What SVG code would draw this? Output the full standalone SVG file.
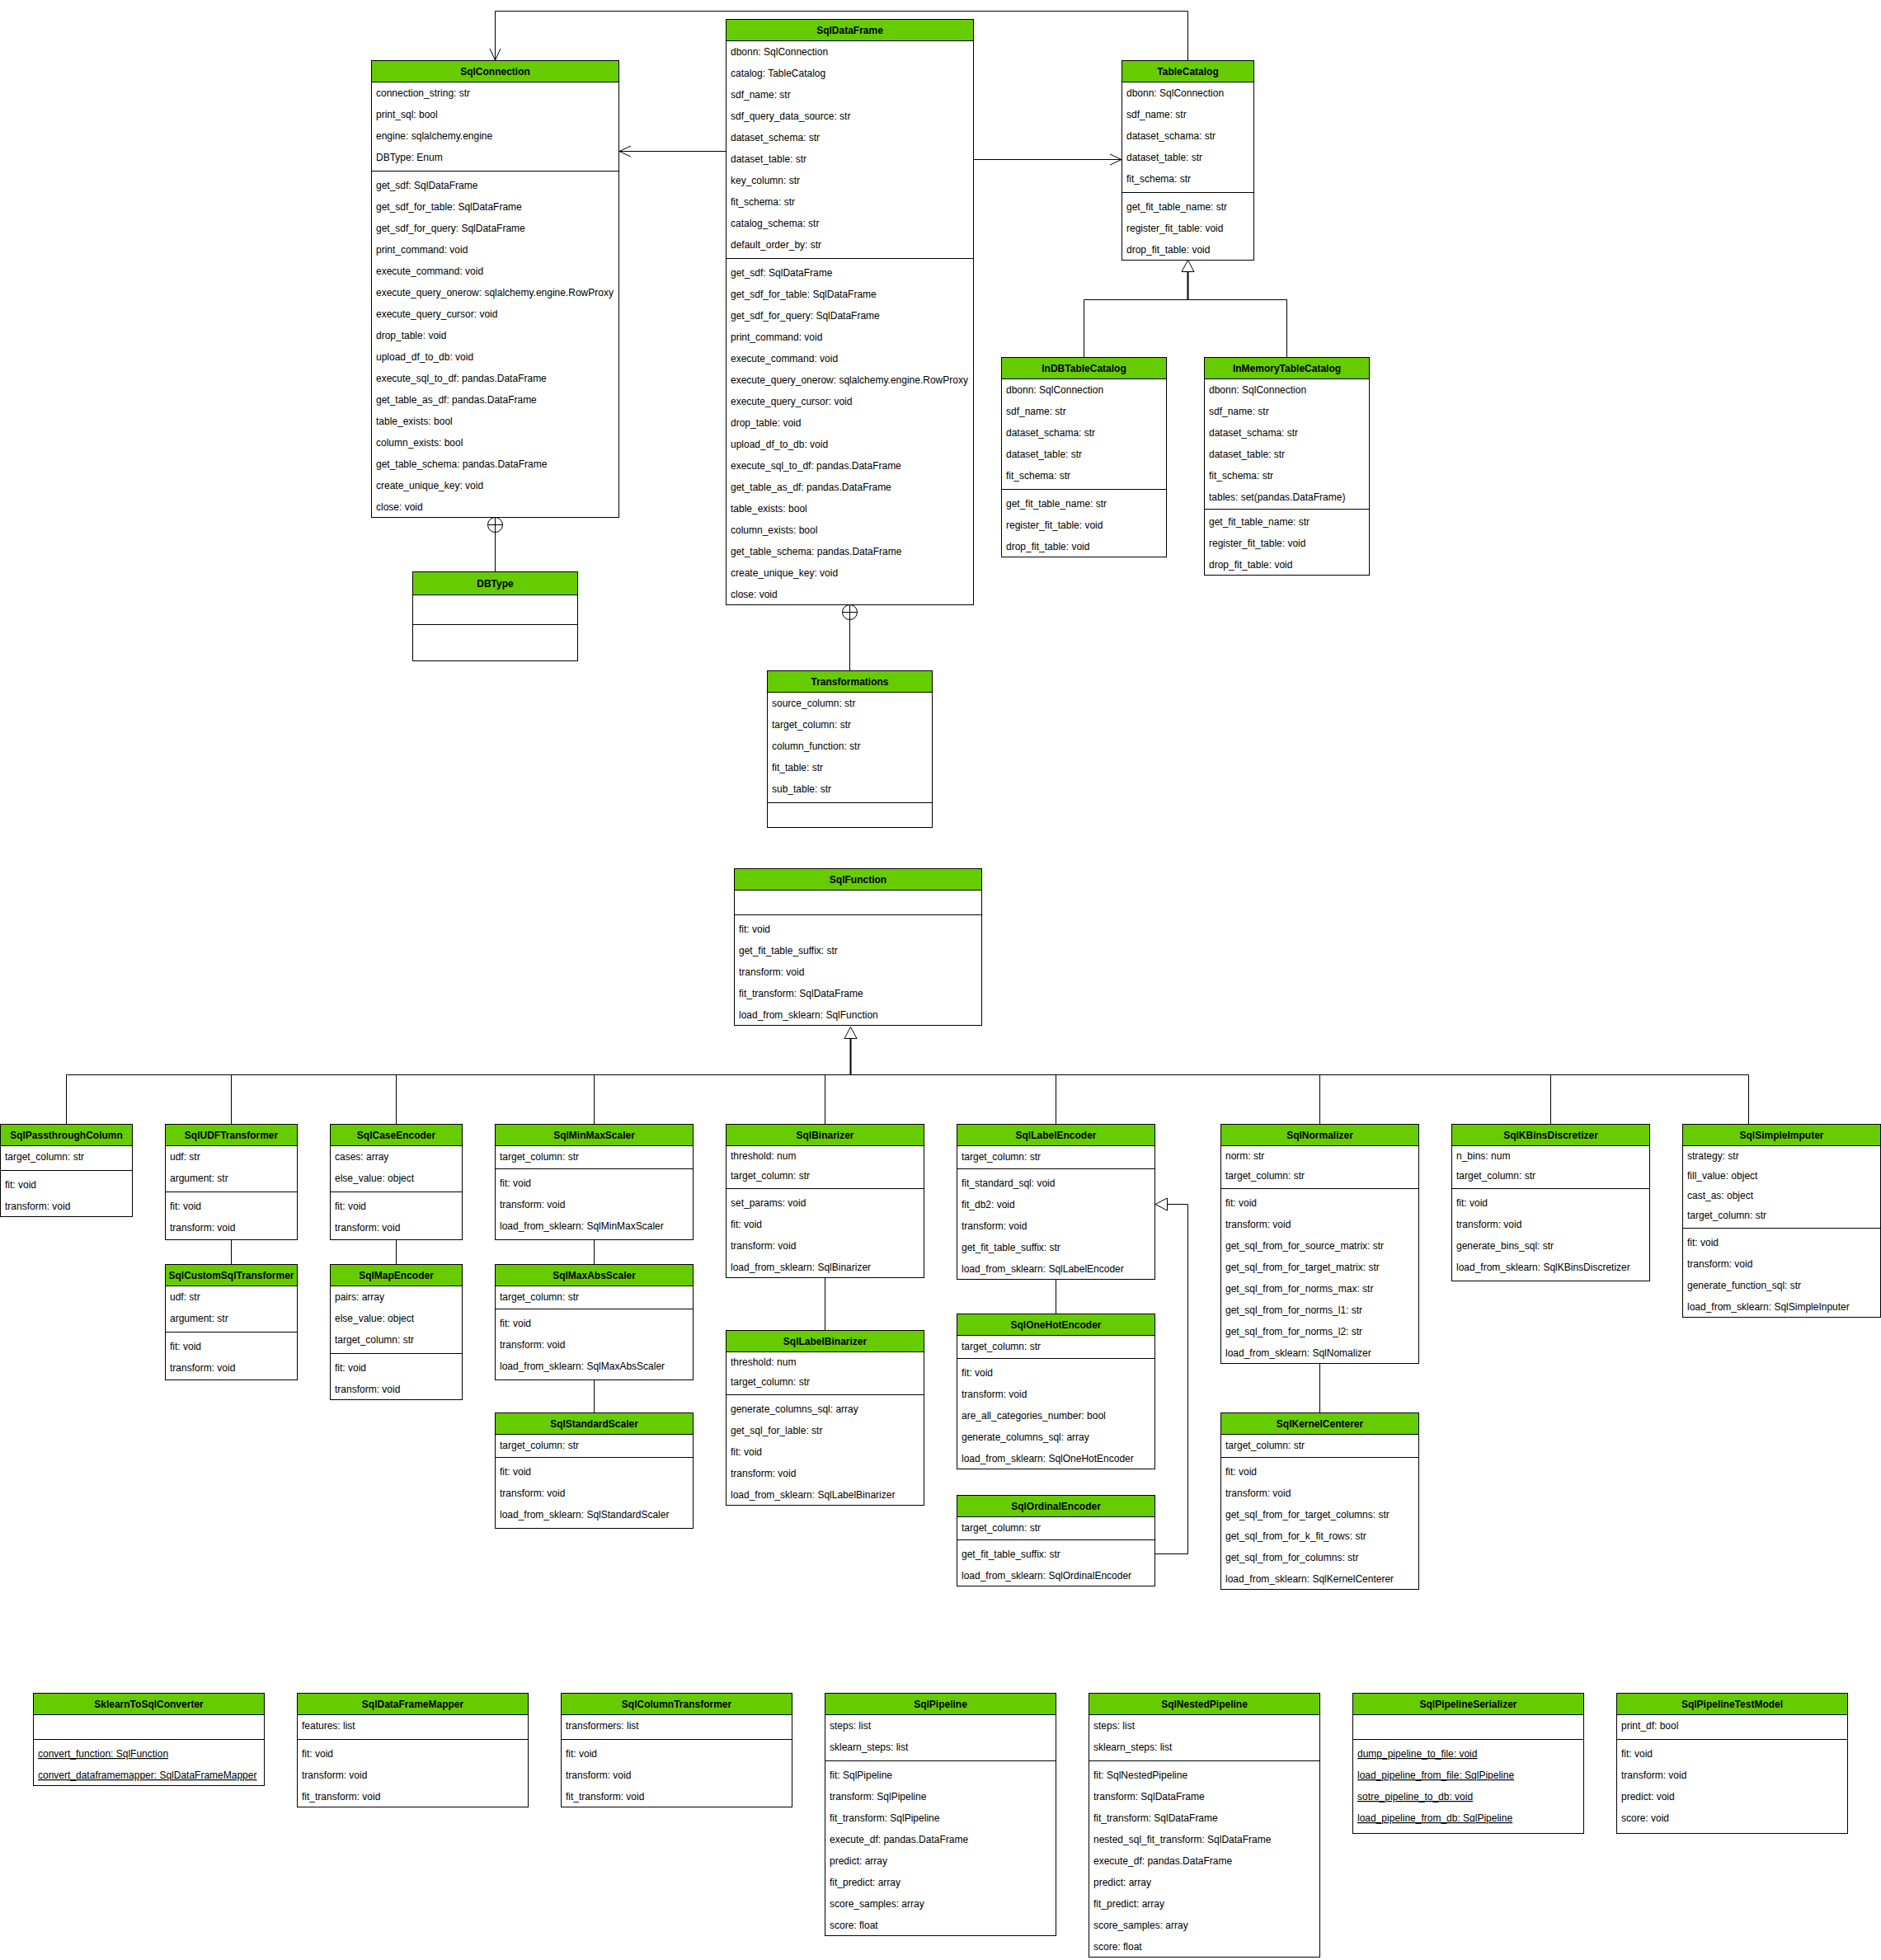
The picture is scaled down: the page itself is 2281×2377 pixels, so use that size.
<svg xmlns="http://www.w3.org/2000/svg" width="2281" height="2377" viewBox="0 0 2281 2377">
<style>
.bx{fill:#fff;stroke:#000;stroke-width:1}
.hd{fill:#66CC00;stroke:#000;stroke-width:1}
.sp{stroke:#000;stroke-width:1}
text{font-family:"Liberation Sans",Arial,Helvetica,sans-serif;font-size:12px;fill:#000}
.ti{font-weight:bold;text-anchor:middle}
.u{text-decoration:underline}
.e{fill:none;stroke:#000;stroke-width:1}
.e2{fill:none;stroke:#000;stroke-width:2}
.tri{fill:#fff;stroke:#000;stroke-width:1}
</style>
<defs>
<marker id="open" markerUnits="userSpaceOnUse" viewBox="-16 -10 20 20" refX="0" refY="0" markerWidth="20" markerHeight="20" orient="auto">
<path d="M-14,-6.5 L0,0 L-14,6.5" fill="none" stroke="#000" stroke-width="1"/>
</marker>
</defs>
<rect x="0" y="0" width="2281" height="2377" fill="#fff"/>

<!-- connectors -->
<g id="connectors">
<path class="e" d="M880.5,183.5 H751" marker-end="url(#open)"/>
<path class="e" d="M1180.5,193.5 H1360" marker-end="url(#open)"/>
<path class="e" d="M1440.5,73.5 V13.5 H600.5 V73" marker-end="url(#open)"/>
<!-- nested: SqlConnection / DBType -->
<circle class="tri" cx="600.5" cy="636.5" r="9"/>
<path class="e" d="M591.5,636.5 H609.5 M600.5,627.5 V693.5"/>
<!-- nested: SqlDataFrame / Transformations -->
<circle class="tri" cx="1030.5" cy="742.5" r="9"/>
<path class="e" d="M1021.5,742.5 H1039.5 M1030.5,733.5 V813.5"/>
<!-- TableCatalog generalization -->
<path class="e" d="M1314.5,433.5 V363.5 H1560.5 V433.5"/>
<path class="e2" d="M1440.5,329.5 V363.5"/>
<polygon class="tri" points="1440.5,315.5 1448,329.5 1433,329.5"/>
<!-- SqlFunction generalization -->
<path class="e" d="M80.5,1363.5 V1303.5 H2120.5 V1363.5"/>
<path class="e" d="M280.5,1303.5 V1363.5 M480.5,1303.5 V1363.5 M720.5,1303.5 V1363.5 M1000.5,1303.5 V1363.5 M1280.5,1303.5 V1363.5 M1600.5,1303.5 V1363.5 M1880.5,1303.5 V1363.5"/>
<path class="e2" d="M1031.5,1259.5 V1303.5"/>
<polygon class="tri" points="1031.5,1245.5 1039,1259.5 1024,1259.5"/>
<!-- chained subclasses -->
<path class="e" d="M280.5,1503.5 V1533.5 M480.5,1503.5 V1533.5 M720.5,1503.5 V1533.5 M720.5,1673.5 V1713.5 M1000.5,1549.5 V1613.5 M1280.5,1551.5 V1593.5 M1600.5,1653.5 V1713.5"/>
<!-- SqlOrdinalEncoder to SqlLabelEncoder -->
<path class="e" d="M1400.5,1884.5 H1440.5 V1460.5 H1415.5"/>
<polygon class="tri" points="1401,1460.5 1415.5,1453 1415.5,1468"/>
</g>

<g id="SqlConnection" transform="translate(450.5,73.5)">
<rect class="bx" width="300" height="554"/><rect class="hd" width="300" height="26"/>
<line class="sp" x1="0" y1="134" x2="300" y2="134"/>
<text class="ti" x="150" y="17.5">SqlConnection</text>
<text x="5.5" y="43.5">connection_string: str</text>
<text x="5.5" y="69.5">print_sql: bool</text>
<text x="5.5" y="95.5">engine: sqlalchemy.engine</text>
<text x="5.5" y="121.5">DBType: Enum</text>
<text x="5.5" y="155.5">get_sdf: SqlDataFrame</text>
<text x="5.5" y="181.5">get_sdf_for_table: SqlDataFrame</text>
<text x="5.5" y="207.5">get_sdf_for_query: SqlDataFrame</text>
<text x="5.5" y="233.5">print_command: void</text>
<text x="5.5" y="259.5">execute_command: void</text>
<text x="5.5" y="285.5">execute_query_onerow: sqlalchemy.engine.RowProxy</text>
<text x="5.5" y="311.5">execute_query_cursor: void</text>
<text x="5.5" y="337.5">drop_table: void</text>
<text x="5.5" y="363.5">upload_df_to_db: void</text>
<text x="5.5" y="389.5">execute_sql_to_df: pandas.DataFrame</text>
<text x="5.5" y="415.5">get_table_as_df: pandas.DataFrame</text>
<text x="5.5" y="441.5">table_exists: bool</text>
<text x="5.5" y="467.5">column_exists: bool</text>
<text x="5.5" y="493.5">get_table_schema: pandas.DataFrame</text>
<text x="5.5" y="519.5">create_unique_key: void</text>
<text x="5.5" y="545.5">close: void</text>
</g>

<g id="SqlDataFrame" transform="translate(880.5,23.5)">
<rect class="bx" width="300" height="710"/><rect class="hd" width="300" height="26"/>
<line class="sp" x1="0" y1="290" x2="300" y2="290"/>
<text class="ti" x="150" y="17.5">SqlDataFrame</text>
<text x="5.5" y="43.5">dbonn: SqlConnection</text>
<text x="5.5" y="69.5">catalog: TableCatalog</text>
<text x="5.5" y="95.5">sdf_name: str</text>
<text x="5.5" y="121.5">sdf_query_data_source: str</text>
<text x="5.5" y="147.5">dataset_schema: str</text>
<text x="5.5" y="173.5">dataset_table: str</text>
<text x="5.5" y="199.5">key_column: str</text>
<text x="5.5" y="225.5">fit_schema: str</text>
<text x="5.5" y="251.5">catalog_schema: str</text>
<text x="5.5" y="277.5">default_order_by: str</text>
<text x="5.5" y="311.5">get_sdf: SqlDataFrame</text>
<text x="5.5" y="337.5">get_sdf_for_table: SqlDataFrame</text>
<text x="5.5" y="363.5">get_sdf_for_query: SqlDataFrame</text>
<text x="5.5" y="389.5">print_command: void</text>
<text x="5.5" y="415.5">execute_command: void</text>
<text x="5.5" y="441.5">execute_query_onerow: sqlalchemy.engine.RowProxy</text>
<text x="5.5" y="467.5">execute_query_cursor: void</text>
<text x="5.5" y="493.5">drop_table: void</text>
<text x="5.5" y="519.5">upload_df_to_db: void</text>
<text x="5.5" y="545.5">execute_sql_to_df: pandas.DataFrame</text>
<text x="5.5" y="571.5">get_table_as_df: pandas.DataFrame</text>
<text x="5.5" y="597.5">table_exists: bool</text>
<text x="5.5" y="623.5">column_exists: bool</text>
<text x="5.5" y="649.5">get_table_schema: pandas.DataFrame</text>
<text x="5.5" y="675.5">create_unique_key: void</text>
<text x="5.5" y="701.5">close: void</text>
</g>

<g id="TableCatalog" transform="translate(1360.5,73.5)">
<rect class="bx" width="160" height="242"/><rect class="hd" width="160" height="26"/>
<line class="sp" x1="0" y1="160" x2="160" y2="160"/>
<text class="ti" x="80" y="17.5">TableCatalog</text>
<text x="5.5" y="43.5">dbonn: SqlConnection</text>
<text x="5.5" y="69.5">sdf_name: str</text>
<text x="5.5" y="95.5">dataset_schama: str</text>
<text x="5.5" y="121.5">dataset_table: str</text>
<text x="5.5" y="147.5">fit_schema: str</text>
<text x="5.5" y="181.5">get_fit_table_name: str</text>
<text x="5.5" y="207.5">register_fit_table: void</text>
<text x="5.5" y="233.5">drop_fit_table: void</text>
</g>

<g id="InDBTableCatalog" transform="translate(1214.5,433.5)">
<rect class="bx" width="200" height="242"/><rect class="hd" width="200" height="26"/>
<line class="sp" x1="0" y1="160" x2="200" y2="160"/>
<text class="ti" x="100" y="17.5">InDBTableCatalog</text>
<text x="5.5" y="43.5">dbonn: SqlConnection</text>
<text x="5.5" y="69.5">sdf_name: str</text>
<text x="5.5" y="95.5">dataset_schama: str</text>
<text x="5.5" y="121.5">dataset_table: str</text>
<text x="5.5" y="147.5">fit_schema: str</text>
<text x="5.5" y="181.5">get_fit_table_name: str</text>
<text x="5.5" y="207.5">register_fit_table: void</text>
<text x="5.5" y="233.5">drop_fit_table: void</text>
</g>

<g id="InMemoryTableCatalog" transform="translate(1460.5,433.5)">
<rect class="bx" width="200" height="264"/><rect class="hd" width="200" height="26"/>
<line class="sp" x1="0" y1="184" x2="200" y2="184"/>
<text class="ti" x="100" y="17.5">InMemoryTableCatalog</text>
<text x="5.5" y="43.5">dbonn: SqlConnection</text>
<text x="5.5" y="69.5">sdf_name: str</text>
<text x="5.5" y="95.5">dataset_schama: str</text>
<text x="5.5" y="121.5">dataset_table: str</text>
<text x="5.5" y="147.5">fit_schema: str</text>
<text x="5.5" y="173.5">tables: set(pandas.DataFrame)</text>
<text x="5.5" y="203.5">get_fit_table_name: str</text>
<text x="5.5" y="229.5">register_fit_table: void</text>
<text x="5.5" y="255.5">drop_fit_table: void</text>
</g>

<g id="DBType" transform="translate(500.5,693.5)">
<rect class="bx" width="200" height="108"/><rect class="hd" width="200" height="28"/>
<line class="sp" x1="0" y1="64" x2="200" y2="64"/>
<text class="ti" x="100" y="18.5">DBType</text>
</g>

<g id="Transformations" transform="translate(930.5,813.5)">
<rect class="bx" width="200" height="190"/><rect class="hd" width="200" height="26"/>
<line class="sp" x1="0" y1="160" x2="200" y2="160"/>
<text class="ti" x="100" y="17.5">Transformations</text>
<text x="5.5" y="43.5">source_column: str</text>
<text x="5.5" y="69.5">target_column: str</text>
<text x="5.5" y="95.5">column_function: str</text>
<text x="5.5" y="121.5">fit_table: str</text>
<text x="5.5" y="147.5">sub_table: str</text>
</g>

<g id="SqlFunction" transform="translate(890.5,1053.5)">
<rect class="bx" width="300" height="190"/><rect class="hd" width="300" height="26"/>
<line class="sp" x1="0" y1="56" x2="300" y2="56"/>
<text class="ti" x="150" y="17.5">SqlFunction</text>
<text x="5.5" y="77.5">fit: void</text>
<text x="5.5" y="103.5">get_fit_table_suffix: str</text>
<text x="5.5" y="129.5">transform: void</text>
<text x="5.5" y="155.5">fit_transform: SqlDataFrame</text>
<text x="5.5" y="181.5">load_from_sklearn: SqlFunction</text>
</g>

<g id="SqlPassthroughColumn" transform="translate(0.5,1363.5)">
<rect class="bx" width="160" height="112"/><rect class="hd" width="160" height="26"/>
<line class="sp" x1="0" y1="56" x2="160" y2="56"/>
<text class="ti" x="80" y="17.5">SqlPassthroughColumn</text>
<text x="5.5" y="43.5">target_column: str</text>
<text x="5.5" y="77.5">fit: void</text>
<text x="5.5" y="103.5">transform: void</text>
</g>

<g id="SqlUDFTransformer" transform="translate(200.5,1363.5)">
<rect class="bx" width="160" height="140"/><rect class="hd" width="160" height="26"/>
<line class="sp" x1="0" y1="82" x2="160" y2="82"/>
<text class="ti" x="80" y="17.5">SqlUDFTransformer</text>
<text x="5.5" y="43.5">udf: str</text>
<text x="5.5" y="69.5">argument: str</text>
<text x="5.5" y="103.5">fit: void</text>
<text x="5.5" y="129.5">transform: void</text>
</g>

<g id="SqlCustomSqlTransformer" transform="translate(200.5,1533.5)">
<rect class="bx" width="160" height="140"/><rect class="hd" width="160" height="26"/>
<line class="sp" x1="0" y1="82" x2="160" y2="82"/>
<text class="ti" x="80" y="17.5">SqlCustomSqlTransformer</text>
<text x="5.5" y="43.5">udf: str</text>
<text x="5.5" y="69.5">argument: str</text>
<text x="5.5" y="103.5">fit: void</text>
<text x="5.5" y="129.5">transform: void</text>
</g>

<g id="SqlCaseEncoder" transform="translate(400.5,1363.5)">
<rect class="bx" width="160" height="140"/><rect class="hd" width="160" height="26"/>
<line class="sp" x1="0" y1="82" x2="160" y2="82"/>
<text class="ti" x="80" y="17.5">SqlCaseEncoder</text>
<text x="5.5" y="43.5">cases: array</text>
<text x="5.5" y="69.5">else_value: object</text>
<text x="5.5" y="103.5">fit: void</text>
<text x="5.5" y="129.5">transform: void</text>
</g>

<g id="SqlMapEncoder" transform="translate(400.5,1533.5)">
<rect class="bx" width="160" height="164"/><rect class="hd" width="160" height="26"/>
<line class="sp" x1="0" y1="108" x2="160" y2="108"/>
<text class="ti" x="80" y="17.5">SqlMapEncoder</text>
<text x="5.5" y="43.5">pairs: array</text>
<text x="5.5" y="69.5">else_value: object</text>
<text x="5.5" y="95.5">target_column: str</text>
<text x="5.5" y="129.5">fit: void</text>
<text x="5.5" y="155.5">transform: void</text>
</g>

<g id="SqlMinMaxScaler" transform="translate(600.5,1363.5)">
<rect class="bx" width="240" height="140"/><rect class="hd" width="240" height="26"/>
<line class="sp" x1="0" y1="54" x2="240" y2="54"/>
<text class="ti" x="120" y="17.5">SqlMinMaxScaler</text>
<text x="5.5" y="43.5">target_column: str</text>
<text x="5.5" y="75.5">fit: void</text>
<text x="5.5" y="101.5">transform: void</text>
<text x="5.5" y="127.5">load_from_sklearn: SqlMinMaxScaler</text>
</g>

<g id="SqlMaxAbsScaler" transform="translate(600.5,1533.5)">
<rect class="bx" width="240" height="140"/><rect class="hd" width="240" height="26"/>
<line class="sp" x1="0" y1="54" x2="240" y2="54"/>
<text class="ti" x="120" y="17.5">SqlMaxAbsScaler</text>
<text x="5.5" y="43.5">target_column: str</text>
<text x="5.5" y="75.5">fit: void</text>
<text x="5.5" y="101.5">transform: void</text>
<text x="5.5" y="127.5">load_from_sklearn: SqlMaxAbsScaler</text>
</g>

<g id="SqlStandardScaler" transform="translate(600.5,1713.5)">
<rect class="bx" width="240" height="140"/><rect class="hd" width="240" height="26"/>
<line class="sp" x1="0" y1="54" x2="240" y2="54"/>
<text class="ti" x="120" y="17.5">SqlStandardScaler</text>
<text x="5.5" y="43.5">target_column: str</text>
<text x="5.5" y="75.5">fit: void</text>
<text x="5.5" y="101.5">transform: void</text>
<text x="5.5" y="127.5">load_from_sklearn: SqlStandardScaler</text>
</g>

<g id="SqlBinarizer" transform="translate(880.5,1363.5)">
<rect class="bx" width="240" height="186"/><rect class="hd" width="240" height="26"/>
<line class="sp" x1="0" y1="78" x2="240" y2="78"/>
<text class="ti" x="120" y="17.5">SqlBinarizer</text>
<text x="5.5" y="42.5">threshold: num</text>
<text x="5.5" y="66.5">target_column: str</text>
<text x="5.5" y="99.5">set_params: void</text>
<text x="5.5" y="125.5">fit: void</text>
<text x="5.5" y="151.5">transform: void</text>
<text x="5.5" y="177.5">load_from_sklearn: SqlBinarizer</text>
</g>

<g id="SqlLabelBinarizer" transform="translate(880.5,1613.5)">
<rect class="bx" width="240" height="212"/><rect class="hd" width="240" height="26"/>
<line class="sp" x1="0" y1="78" x2="240" y2="78"/>
<text class="ti" x="120" y="17.5">SqlLabelBinarizer</text>
<text x="5.5" y="42.5">threshold: num</text>
<text x="5.5" y="66.5">target_column: str</text>
<text x="5.5" y="99.5">generate_columns_sql: array</text>
<text x="5.5" y="125.5">get_sql_for_lable: str</text>
<text x="5.5" y="151.5">fit: void</text>
<text x="5.5" y="177.5">transform: void</text>
<text x="5.5" y="203.5">load_from_sklearn: SqlLabelBinarizer</text>
</g>

<g id="SqlLabelEncoder" transform="translate(1160.5,1363.5)">
<rect class="bx" width="240" height="188"/><rect class="hd" width="240" height="26"/>
<line class="sp" x1="0" y1="54" x2="240" y2="54"/>
<text class="ti" x="120" y="17.5">SqlLabelEncoder</text>
<text x="5.5" y="43.5">target_column: str</text>
<text x="5.5" y="75.5">fit_standard_sql: void</text>
<text x="5.5" y="101.5">fit_db2: void</text>
<text x="5.5" y="127.5">transform: void</text>
<text x="5.5" y="153.5">get_fit_table_suffix: str</text>
<text x="5.5" y="179.5">load_from_sklearn: SqlLabelEncoder</text>
</g>

<g id="SqlOneHotEncoder" transform="translate(1160.5,1593.5)">
<rect class="bx" width="240" height="188"/><rect class="hd" width="240" height="26"/>
<line class="sp" x1="0" y1="54" x2="240" y2="54"/>
<text class="ti" x="120" y="17.5">SqlOneHotEncoder</text>
<text x="5.5" y="43.5">target_column: str</text>
<text x="5.5" y="75.5">fit: void</text>
<text x="5.5" y="101.5">transform: void</text>
<text x="5.5" y="127.5">are_all_categories_number: bool</text>
<text x="5.5" y="153.5">generate_columns_sql: array</text>
<text x="5.5" y="179.5">load_from_sklearn: SqlOneHotEncoder</text>
</g>

<g id="SqlOrdinalEncoder" transform="translate(1160.5,1813.5)">
<rect class="bx" width="240" height="110"/><rect class="hd" width="240" height="26"/>
<line class="sp" x1="0" y1="54" x2="240" y2="54"/>
<text class="ti" x="120" y="17.5">SqlOrdinalEncoder</text>
<text x="5.5" y="43.5">target_column: str</text>
<text x="5.5" y="75.5">get_fit_table_suffix: str</text>
<text x="5.5" y="101.5">load_from_sklearn: SqlOrdinalEncoder</text>
</g>

<g id="SqlNormalizer" transform="translate(1480.5,1363.5)">
<rect class="bx" width="240" height="290"/><rect class="hd" width="240" height="26"/>
<line class="sp" x1="0" y1="78" x2="240" y2="78"/>
<text class="ti" x="120" y="17.5">SqlNormalizer</text>
<text x="5.5" y="42.5">norm: str</text>
<text x="5.5" y="66.5">target_column: str</text>
<text x="5.5" y="99.5">fit: void</text>
<text x="5.5" y="125.5">transform: void</text>
<text x="5.5" y="151.5">get_sql_from_for_source_matrix: str</text>
<text x="5.5" y="177.5">get_sql_from_for_target_matrix: str</text>
<text x="5.5" y="203.5">get_sql_from_for_norms_max: str</text>
<text x="5.5" y="229.5">get_sql_from_for_norms_l1: str</text>
<text x="5.5" y="255.5">get_sql_from_for_norms_l2: str</text>
<text x="5.5" y="281.5">load_from_sklearn: SqlNomalizer</text>
</g>

<g id="SqlKernelCenterer" transform="translate(1480.5,1713.5)">
<rect class="bx" width="240" height="214"/><rect class="hd" width="240" height="26"/>
<line class="sp" x1="0" y1="54" x2="240" y2="54"/>
<text class="ti" x="120" y="17.5">SqlKernelCenterer</text>
<text x="5.5" y="43.5">target_column: str</text>
<text x="5.5" y="75.5">fit: void</text>
<text x="5.5" y="101.5">transform: void</text>
<text x="5.5" y="127.5">get_sql_from_for_target_columns: str</text>
<text x="5.5" y="153.5">get_sql_from_for_k_fit_rows: str</text>
<text x="5.5" y="179.5">get_sql_from_for_columns: str</text>
<text x="5.5" y="205.5">load_from_sklearn: SqlKernelCenterer</text>
</g>

<g id="SqlKBinsDiscretizer" transform="translate(1760.5,1363.5)">
<rect class="bx" width="240" height="190"/><rect class="hd" width="240" height="26"/>
<line class="sp" x1="0" y1="78" x2="240" y2="78"/>
<text class="ti" x="120" y="17.5">SqlKBinsDiscretizer</text>
<text x="5.5" y="42.5">n_bins: num</text>
<text x="5.5" y="66.5">target_column: str</text>
<text x="5.5" y="99.5">fit: void</text>
<text x="5.5" y="125.5">transform: void</text>
<text x="5.5" y="151.5">generate_bins_sql: str</text>
<text x="5.5" y="177.5">load_from_sklearn: SqlKBinsDiscretizer</text>
</g>

<g id="SqlSimpleImputer" transform="translate(2040.5,1363.5)">
<rect class="bx" width="240" height="234"/><rect class="hd" width="240" height="26"/>
<line class="sp" x1="0" y1="126" x2="240" y2="126"/>
<text class="ti" x="120" y="17.5">SqlSimpleImputer</text>
<text x="5.5" y="42.5">strategy: str</text>
<text x="5.5" y="66.5">fill_value: object</text>
<text x="5.5" y="90.5">cast_as: object</text>
<text x="5.5" y="114.5">target_column: str</text>
<text x="5.5" y="147.5">fit: void</text>
<text x="5.5" y="173.5">transform: void</text>
<text x="5.5" y="199.5">generate_function_sql: str</text>
<text x="5.5" y="225.5">load_from_sklearn: SqlSimpleInputer</text>
</g>

<g id="SklearnToSqlConverter" transform="translate(40.5,2053.5)">
<rect class="bx" width="280" height="112"/><rect class="hd" width="280" height="26"/>
<line class="sp" x1="0" y1="56" x2="280" y2="56"/>
<text class="ti" x="140" y="17.5">SklearnToSqlConverter</text>
<text class="u" x="5.5" y="77.5">convert_function: SqlFunction</text>
<text class="u" x="5.5" y="103.5">convert_dataframemapper: SqlDataFrameMapper</text>
</g>

<g id="SqlDataFrameMapper" transform="translate(360.5,2053.5)">
<rect class="bx" width="280" height="138"/><rect class="hd" width="280" height="26"/>
<line class="sp" x1="0" y1="56" x2="280" y2="56"/>
<text class="ti" x="140" y="17.5">SqlDataFrameMapper</text>
<text x="5.5" y="43.5">features: list</text>
<text x="5.5" y="77.5">fit: void</text>
<text x="5.5" y="103.5">transform: void</text>
<text x="5.5" y="129.5">fit_transform: void</text>
</g>

<g id="SqlColumnTransformer" transform="translate(680.5,2053.5)">
<rect class="bx" width="280" height="138"/><rect class="hd" width="280" height="26"/>
<line class="sp" x1="0" y1="56" x2="280" y2="56"/>
<text class="ti" x="140" y="17.5">SqlColumnTransformer</text>
<text x="5.5" y="43.5">transformers: list</text>
<text x="5.5" y="77.5">fit: void</text>
<text x="5.5" y="103.5">transform: void</text>
<text x="5.5" y="129.5">fit_transform: void</text>
</g>

<g id="SqlPipeline" transform="translate(1000.5,2053.5)">
<rect class="bx" width="280" height="294"/><rect class="hd" width="280" height="26"/>
<line class="sp" x1="0" y1="82" x2="280" y2="82"/>
<text class="ti" x="140" y="17.5">SqlPipeline</text>
<text x="5.5" y="43.5">steps: list</text>
<text x="5.5" y="69.5">sklearn_steps: list</text>
<text x="5.5" y="103.5">fit: SqlPipeline</text>
<text x="5.5" y="129.5">transform: SqlPipeline</text>
<text x="5.5" y="155.5">fit_transform: SqlPipeline</text>
<text x="5.5" y="181.5">execute_df: pandas.DataFrame</text>
<text x="5.5" y="207.5">predict: array</text>
<text x="5.5" y="233.5">fit_predict: array</text>
<text x="5.5" y="259.5">score_samples: array</text>
<text x="5.5" y="285.5">score: float</text>
</g>

<g id="SqlNestedPipeline" transform="translate(1320.5,2053.5)">
<rect class="bx" width="280" height="320"/><rect class="hd" width="280" height="26"/>
<line class="sp" x1="0" y1="82" x2="280" y2="82"/>
<text class="ti" x="140" y="17.5">SqlNestedPipeline</text>
<text x="5.5" y="43.5">steps: list</text>
<text x="5.5" y="69.5">sklearn_steps: list</text>
<text x="5.5" y="103.5">fit: SqlNestedPipeline</text>
<text x="5.5" y="129.5">transform: SqlDataFrame</text>
<text x="5.5" y="155.5">fit_transform: SqlDataFrame</text>
<text x="5.5" y="181.5">nested_sql_fit_transform: SqlDataFrame</text>
<text x="5.5" y="207.5">execute_df: pandas.DataFrame</text>
<text x="5.5" y="233.5">predict: array</text>
<text x="5.5" y="259.5">fit_predict: array</text>
<text x="5.5" y="285.5">score_samples: array</text>
<text x="5.5" y="311.5">score: float</text>
</g>

<g id="SqlPipelineSerializer" transform="translate(1640.5,2053.5)">
<rect class="bx" width="280" height="170"/><rect class="hd" width="280" height="26"/>
<line class="sp" x1="0" y1="56" x2="280" y2="56"/>
<text class="ti" x="140" y="17.5">SqlPipelineSerializer</text>
<text class="u" x="5.5" y="77.5">dump_pipeline_to_file: void</text>
<text class="u" x="5.5" y="103.5">load_pipeline_from_file: SqlPipeline</text>
<text class="u" x="5.5" y="129.5">sotre_pipeline_to_db: void</text>
<text class="u" x="5.5" y="155.5">load_pipeline_from_db: SqlPipeline</text>
</g>

<g id="SqlPipelineTestModel" transform="translate(1960.5,2053.5)">
<rect class="bx" width="280" height="170"/><rect class="hd" width="280" height="26"/>
<line class="sp" x1="0" y1="56" x2="280" y2="56"/>
<text class="ti" x="140" y="17.5">SqlPipelineTestModel</text>
<text x="5.5" y="43.5">print_df: bool</text>
<text x="5.5" y="77.5">fit: void</text>
<text x="5.5" y="103.5">transform: void</text>
<text x="5.5" y="129.5">predict: void</text>
<text x="5.5" y="155.5">score: void</text>
</g>
</svg>
